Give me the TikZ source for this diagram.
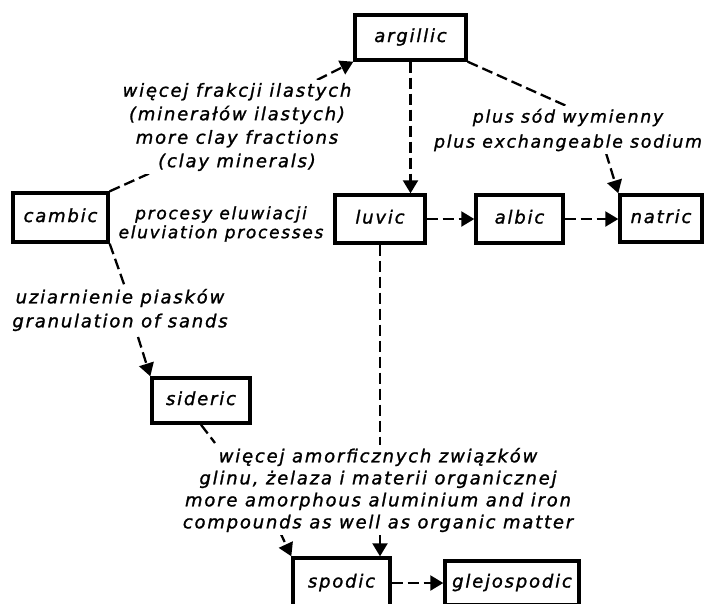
\documentclass[tikz,border=0pt]{standalone}
\usepackage{fontspec}
\newfontfamily\labfont{DejaVu Sans}[LetterSpace=10,FakeBold=1.3]
\usetikzlibrary{arrows.meta}
\begin{document}
\begin{tikzpicture}[x=1pt,y=-1pt,
  box/.style={draw, line width=3.4pt, inner sep=0pt, text height=13pt, text depth=4pt,
    font={\labfont\itshape\fontsize{18}{22}\selectfont}},
  conn/.style={line width=2.3pt, dash pattern=on 11pt off 5pt},
  arr/.style={conn, -{Triangle[length=13pt,width=15pt]}},
  lbl/.style={fill=white, align=center, inner sep=3pt}]
\useasboundingbox (0,0) rectangle (706,603);
\clip (0,0) rectangle (706,603);
% boxes
\node[box, minimum width=111pt, minimum height=45pt] (argillic) at (410.5,37.5) {argillic};
\node[box, minimum width=90pt, minimum height=48pt] (luvic) at (380,219) {luvic};
\node[box, minimum width=87pt, minimum height=48pt] (albic) at (519.5,219) {albic};
\node[box, minimum width=82pt, minimum height=47pt] (natric) at (661,218.5) {natric};
\node[box, minimum width=95pt, minimum height=49pt] (cambic) at (60.5,217.5) {cambic};
\node[box, minimum width=98pt, minimum height=45pt] (sideric) at (201,400.5) {sideric};
\node[box, minimum width=97pt, minimum height=50pt] (spodic) at (341.5,583) {spodic};
\node[box, minimum width=134pt, minimum height=44pt] (glejospodic) at (512,583) {glejospodic};
% connector break points
\coordinate (a1) at (157,170); \coordinate (a2) at (317,80);
\coordinate (b1) at (125,287); \coordinate (b2) at (138,337);
\coordinate (c1) at (215,443); \coordinate (c2) at (280,532);
\coordinate (d1) at (571,108); \coordinate (d2) at (606,153);
% connectors
\draw[conn] (cambic.north east) -- (a1);
\draw[arr] (a2) -- (argillic.south west);
\draw[conn] (cambic.south east) -- (b1);
\draw[arr] (b2) -- (sideric.north west);
\draw[conn] (sideric.south) -- (c1);
\draw[arr] (c2) -- (spodic.north west);
\draw[conn] (argillic.south east) -- (d1);
\draw[arr] (d2) -- (natric.north west);
\draw[arr] (argillic.south) -- (argillic.south |- luvic.north);
\draw[arr] (luvic.south) -- (luvic.south |- spodic.north);
\draw[arr] (luvic.east) -- (albic.west);
\draw[arr] (albic.east) -- (natric.west |- albic.east);
\draw[arr] (spodic.east) -- (glejospodic.west |- spodic.east);
% labels
\node[lbl, font={\labfont\itshape\fontsize{18}{23.5}\selectfont}] (l1) at (237,127)
  {więcej frakcji ilastych\\(minerałów ilastych)\\more clay fractions\\(clay minerals)};
\node[lbl, font={\labfont\itshape\fontsize{17}{19}\selectfont}] (l2) at (221,224)
  {procesy eluwiacji\\eluviation processes};
\node[lbl, font={\labfont\itshape\fontsize{17.3}{25}\selectfont}] (l3) at (568,130)
  {plus sód wymienny\\plus exchangeable sodium};
\node[lbl, font={\labfont\itshape\fontsize{18}{24}\selectfont}] (l4) at (120,310)
  {uziarnienie piasków\\granulation of sands};
\node[lbl, font={\labfont\itshape\fontsize{18}{22}\selectfont}] (l5) at (378,490)
  {więcej amorficznych związków\\glinu, żelaza i materii organicznej\\more amorphous aluminium and iron\\compounds as well as organic matter};
\end{tikzpicture}
\end{document}
